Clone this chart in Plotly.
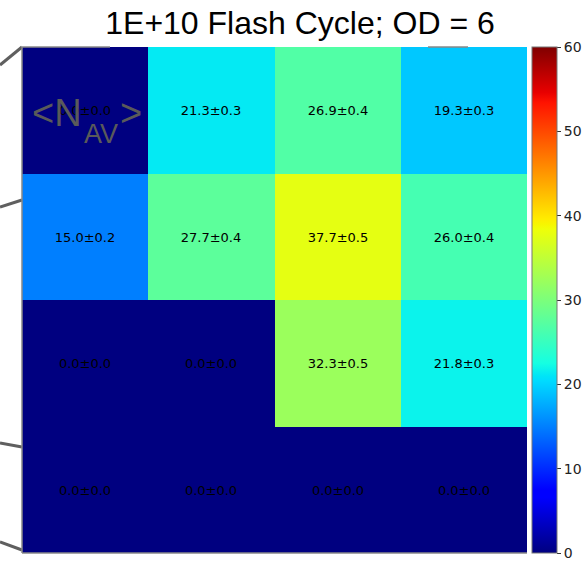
import plotly.graph_objects as go
import numpy as np

title = "1E+10 Flash Cycle; OD = 6"
cols = [0, 1, 2, 3]
rows = [0, 1, 2, 3]
means = [
    [0.0, 21.3, 26.9, 19.3],
    [15.0, 27.7, 37.7, 26.0],
    [0.0, 0.0, 32.3, 21.8],
    [0.0, 0.0, 0.0, 0.0],
]
errs = [
    [0.0, 0.3, 0.4, 0.3],
    [0.2, 0.4, 0.5, 0.4],
    [0.0, 0.0, 0.5, 0.3],
    [0.0, 0.0, 0.0, 0.0],
]
cbar_ticks = [0, 10, 20, 30, 40, 50, 60]

labels = [[f"{m:.1f}±{e:.1f}" for m, e in zip(mr, er)] for mr, er in zip(means, errs)]

# matplotlib 'jet' colormap
seg = {
    "r": [(0, 0), (0.35, 0), (0.66, 1), (0.89, 1), (1, 0.5)],
    "g": [(0, 0), (0.125, 0), (0.375, 1), (0.64, 1), (0.91, 0), (1, 0)],
    "b": [(0, 0.5), (0.11, 1), (0.34, 1), (0.65, 0), (1, 0)],
}
knots = sorted(set(k for v in seg.values() for k, _ in v))
def ch(c, t):
    xs = [a for a, _ in seg[c]]; ys = [b for _, b in seg[c]]
    return float(np.interp(t, xs, ys))
jet = [[t, "rgb(%d,%d,%d)" % tuple(round(255 * ch(c, t)) for c in "rgb")] for t in knots]

W, H = 587, 563
L, R, T, B = 22, 527, 47, 553
PW = W - L  # paper width used (margin r = 0)

def px(x, y):
    return (x - L) / PW, (B - y) / (B - T)

fig = go.Figure(go.Heatmap(
    z=means, x=cols, y=rows, text=labels, texttemplate="%{text}",
    textfont=dict(family="DejaVu Sans", size=13, color="black"),
    colorscale=jet, zmin=0, zmax=60, xgap=0, ygap=0,
    colorbar=dict(
        x=px(532, 0)[0], xanchor="left", xpad=0, ypad=0,
        y=0.5, yanchor="middle", len=1, lenmode="fraction",
        thickness=25, thicknessmode="pixels",
        outlinewidth=1, outlinecolor="#777777",
        tickvals=cbar_ticks, ticks="outside", ticklen=4, tickcolor="#333333",
        tickfont=dict(family="DejaVu Sans", size=14, color="#222222"),
    ),
))

grey = "#5f5f5f"
line_segs = [
    ((0, 65), (22, 47)),
    ((0, 207), (22, 200)),
    ((0, 443), (22, 447)),
    ((0, 542), (22, 550)),
]
shapes = []
for (x0, y0), (x1, y1) in line_segs:
    a0, b0 = px(x0, y0); a1, b1 = px(x1, y1)
    shapes.append(dict(type="line", xref="paper", yref="paper", x0=a0, y0=b0, x1=a1, y1=b1,
                       line=dict(color=grey, width=3)))
for (x0, y0), (x1, y1) in [((22, 47), (22, 553)), ((22, 553), (527, 553)),
                           ((22, 47), (110, 47)), ((428, 47), (468, 47))]:
    a0, b0 = px(x0, y0); a1, b1 = px(x1, y1)
    shapes.append(dict(type="line", xref="paper", yref="paper", x0=a0, y0=b0, x1=a1, y1=b1,
                       line=dict(color="#888888", width=1.5)))

nav_font_big = dict(family="Liberation Sans", size=38, color="#5a5a5a")
nav_font_small = dict(family="Liberation Sans", size=27, color="#5a5a5a")
annotations = [
    dict(text="&lt;N", xref="paper", yref="paper", x=px(84, 0)[0], y=px(0, 113)[1],
         xanchor="right", yanchor="middle", showarrow=False, font=nav_font_big),
    dict(text="AV", xref="paper", yref="paper", x=px(82, 0)[0], y=px(0, 134)[1],
         xanchor="left", yanchor="middle", showarrow=False, font=nav_font_small),
    dict(text="&gt;", xref="paper", yref="paper", x=px(118, 0)[0], y=px(0, 113)[1],
         xanchor="left", yanchor="middle", showarrow=False, font=nav_font_big),
]

fig.update_layout(
    width=W, height=H,
    margin=dict(l=L, r=0, t=T, b=H - B, autoexpand=False),
    paper_bgcolor="white", plot_bgcolor="white",
    title=dict(text=title, x=300 / W, xanchor="center", xref="container",
               y=1 - 23 / H, yanchor="middle", yref="container",
               font=dict(family="Liberation Sans", size=32, color="black")),
    xaxis=dict(visible=False, range=[-0.5, 3.5], domain=[0, (R - L) / PW]),
    yaxis=dict(visible=False, range=[3.5, -0.5]),
    shapes=shapes,
    annotations=annotations,
)

fig.write_html("out.html")
